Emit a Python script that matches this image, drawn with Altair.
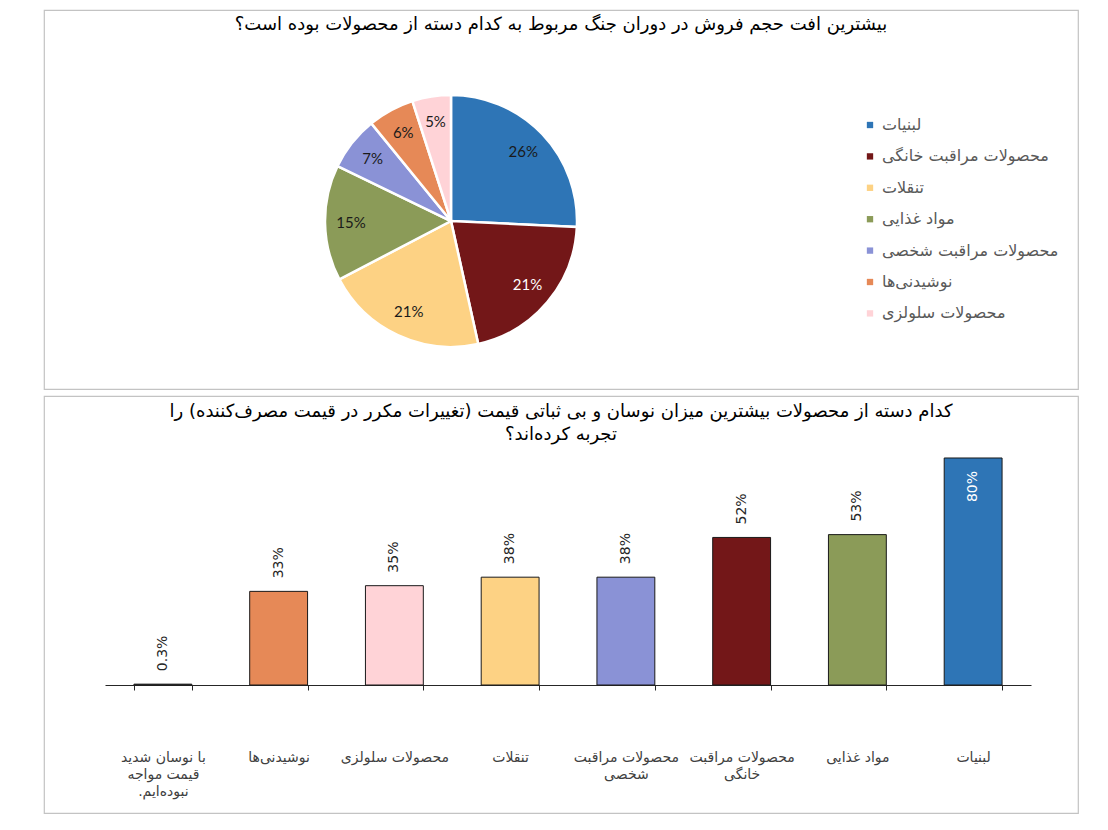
import altair as alt
import pandas as pd

# ---------------- data ----------------
pie_title = "بیشترین افت حجم فروش در دوران جنگ مربوط به کدام دسته از محصولات بوده است؟"
pie_cats = ["لبنیات", "محصولات مراقبت خانگی", "تنقلات", "مواد غذایی",
            "محصولات مراقبت شخصی", "نوشیدنی‌ها", "محصولات سلولزی"]
pie_vals = [26, 21, 21, 15, 7, 6, 5]
pie_colors = ["#2E75B6", "#731718", "#FDD284", "#8B9B58", "#8A92D6", "#E68957", "#FFD3D7"]
pie_label_colors = ["#1a1a1a", "#ffffff", "#1a1a1a", "#1a1a1a", "#1a1a1a", "#1a1a1a", "#1a1a1a"]

bar_title = ("کدام دسته از محصولات بیشترین میزان نوسان و بی ثباتی قیمت (تغییرات مکرر در قیمت مصرف‌کننده) را"
             "\nتجربه کرده‌اند؟")
bar_cats = ["با نوسان شدید|قیمت مواجه|نبوده‌ایم.\u200f", "نوشیدنی‌ها", "محصولات سلولزی", "تنقلات",
            "محصولات مراقبت|شخصی", "محصولات مراقبت|خانگی", "مواد غذایی", "لبنیات"]
bar_vals = [0.3, 33, 35, 38, 38, 52, 53, 80]
bar_colors = ["#262626", "#E68957", "#FFD3D7", "#FDD284", "#8A92D6", "#731718", "#8B9B58", "#2E75B6"]

FA = "DejaVu Sans"

# ---------------- pie panel ----------------
pie_df = pd.DataFrame({
    "cat": pie_cats, "v": pie_vals, "o": list(range(len(pie_cats))),
    "lc": pie_label_colors, "t": [f"{v}%" for v in pie_vals],
})

arcs = alt.Chart(pie_df).mark_arc(outerRadius=126, stroke="white", strokeWidth=2.5).encode(
    theta=alt.Theta("v:Q", stack=True),
    order=alt.Order("o:Q"),
    x=alt.value(407), y=alt.value(211),
    color=alt.Color("cat:N", sort=pie_cats,
                    scale=alt.Scale(domain=pie_cats, range=pie_colors),
                    legend=alt.Legend(orient="none", legendX=818, legendY=107, title=None,
                                      symbolType="square", symbolSize=40, symbolStrokeWidth=0,
                                      labelFont=FA, labelFontSize=16, labelColor="#595959",
                                      rowPadding=15.4, labelOffset=4, padding=0, labelLimit=300)),
)
pie_text = alt.Chart(pie_df).mark_text(radius=100, font="Lato", fontSize=15).encode(
    theta=alt.Theta("v:Q", stack=True),
    order=alt.Order("o:Q"),
    x=alt.value(407), y=alt.value(211),
    text="t:N",
    color=alt.Color("lc:N", scale=None),
)
pie_head = alt.Chart(alt.Data(values=[{"t": pie_title}])).mark_text(
    font=FA, fontSize=18, color="#000000").encode(
    text="t:N", x=alt.value(517), y=alt.value(15))

top = alt.layer(arcs, pie_text, pie_head).properties(width=1034, height=379)

# ---------------- bar panel ----------------
bar_df = pd.DataFrame({"bc": bar_cats, "v": bar_vals, "lab": [f"{v:g}%" for v in bar_vals]})

xenc = alt.X("bc:N", sort=bar_cats,
             scale=alt.Scale(range=[61, 987], paddingInner=0.5, paddingOuter=0.25),
             axis=alt.Axis(title=None, offset=-128, labelAngle=0,
                           labelExpr="split(datum.label, '|')",
                           tickBand="extent", tickSize=5, domainColor="#262626",
                           tickColor="#262626", labelColor="#404040", labelFont=FA,
                           labelFontSize=14, labelPadding=60, labelLineHeight=17,
                           labelBaseline="top"))
yenc = alt.Y("v:Q", scale=alt.Scale(domain=[-45.11, 101.85], nice=False, zero=False), axis=None)

bars = alt.Chart(bar_df).mark_bar(stroke="#1a1a1a", strokeWidth=1).encode(
    x=xenc, y=yenc, y2=alt.datum(0),
    color=alt.Color("bc:N", scale=alt.Scale(domain=bar_cats, range=bar_colors), legend=None),
)
lab_out = alt.Chart(bar_df).transform_filter("datum.v < 70").mark_text(
    angle=270, align="left", baseline="middle", yOffset=-13, font=FA, fontSize=14,
    color="#262626").encode(x=xenc, y=yenc, text="lab:N")
lab_in = alt.Chart(bar_df).transform_filter("datum.v >= 70").mark_text(
    angle=270, align="right", baseline="middle", yOffset=13, font=FA, fontSize=14,
    color="#ffffff").encode(x=xenc, y=yenc, text="lab:N")
bar_head = alt.Chart(alt.Data(values=[{"t": bar_title}])).mark_text(
    font=FA, fontSize=18, color="#000000", lineBreak="\n", baseline="top", lineHeight=23).encode(
    text="t:N", x=alt.value(517), y=alt.value(7))

bottom = alt.layer(bars, lab_out, lab_in, bar_head).properties(width=1034, height=417)

chart = (alt.vconcat(top, bottom, spacing=5)
         .resolve_scale(color="independent")
         .properties(padding={"left": 35, "top": 1, "right": 5, "bottom": 5})
         .configure_view(stroke="#c3c3c3", strokeWidth=1.2))

chart.save("out.html", embed_options={"renderer": "svg", "actions": False})
